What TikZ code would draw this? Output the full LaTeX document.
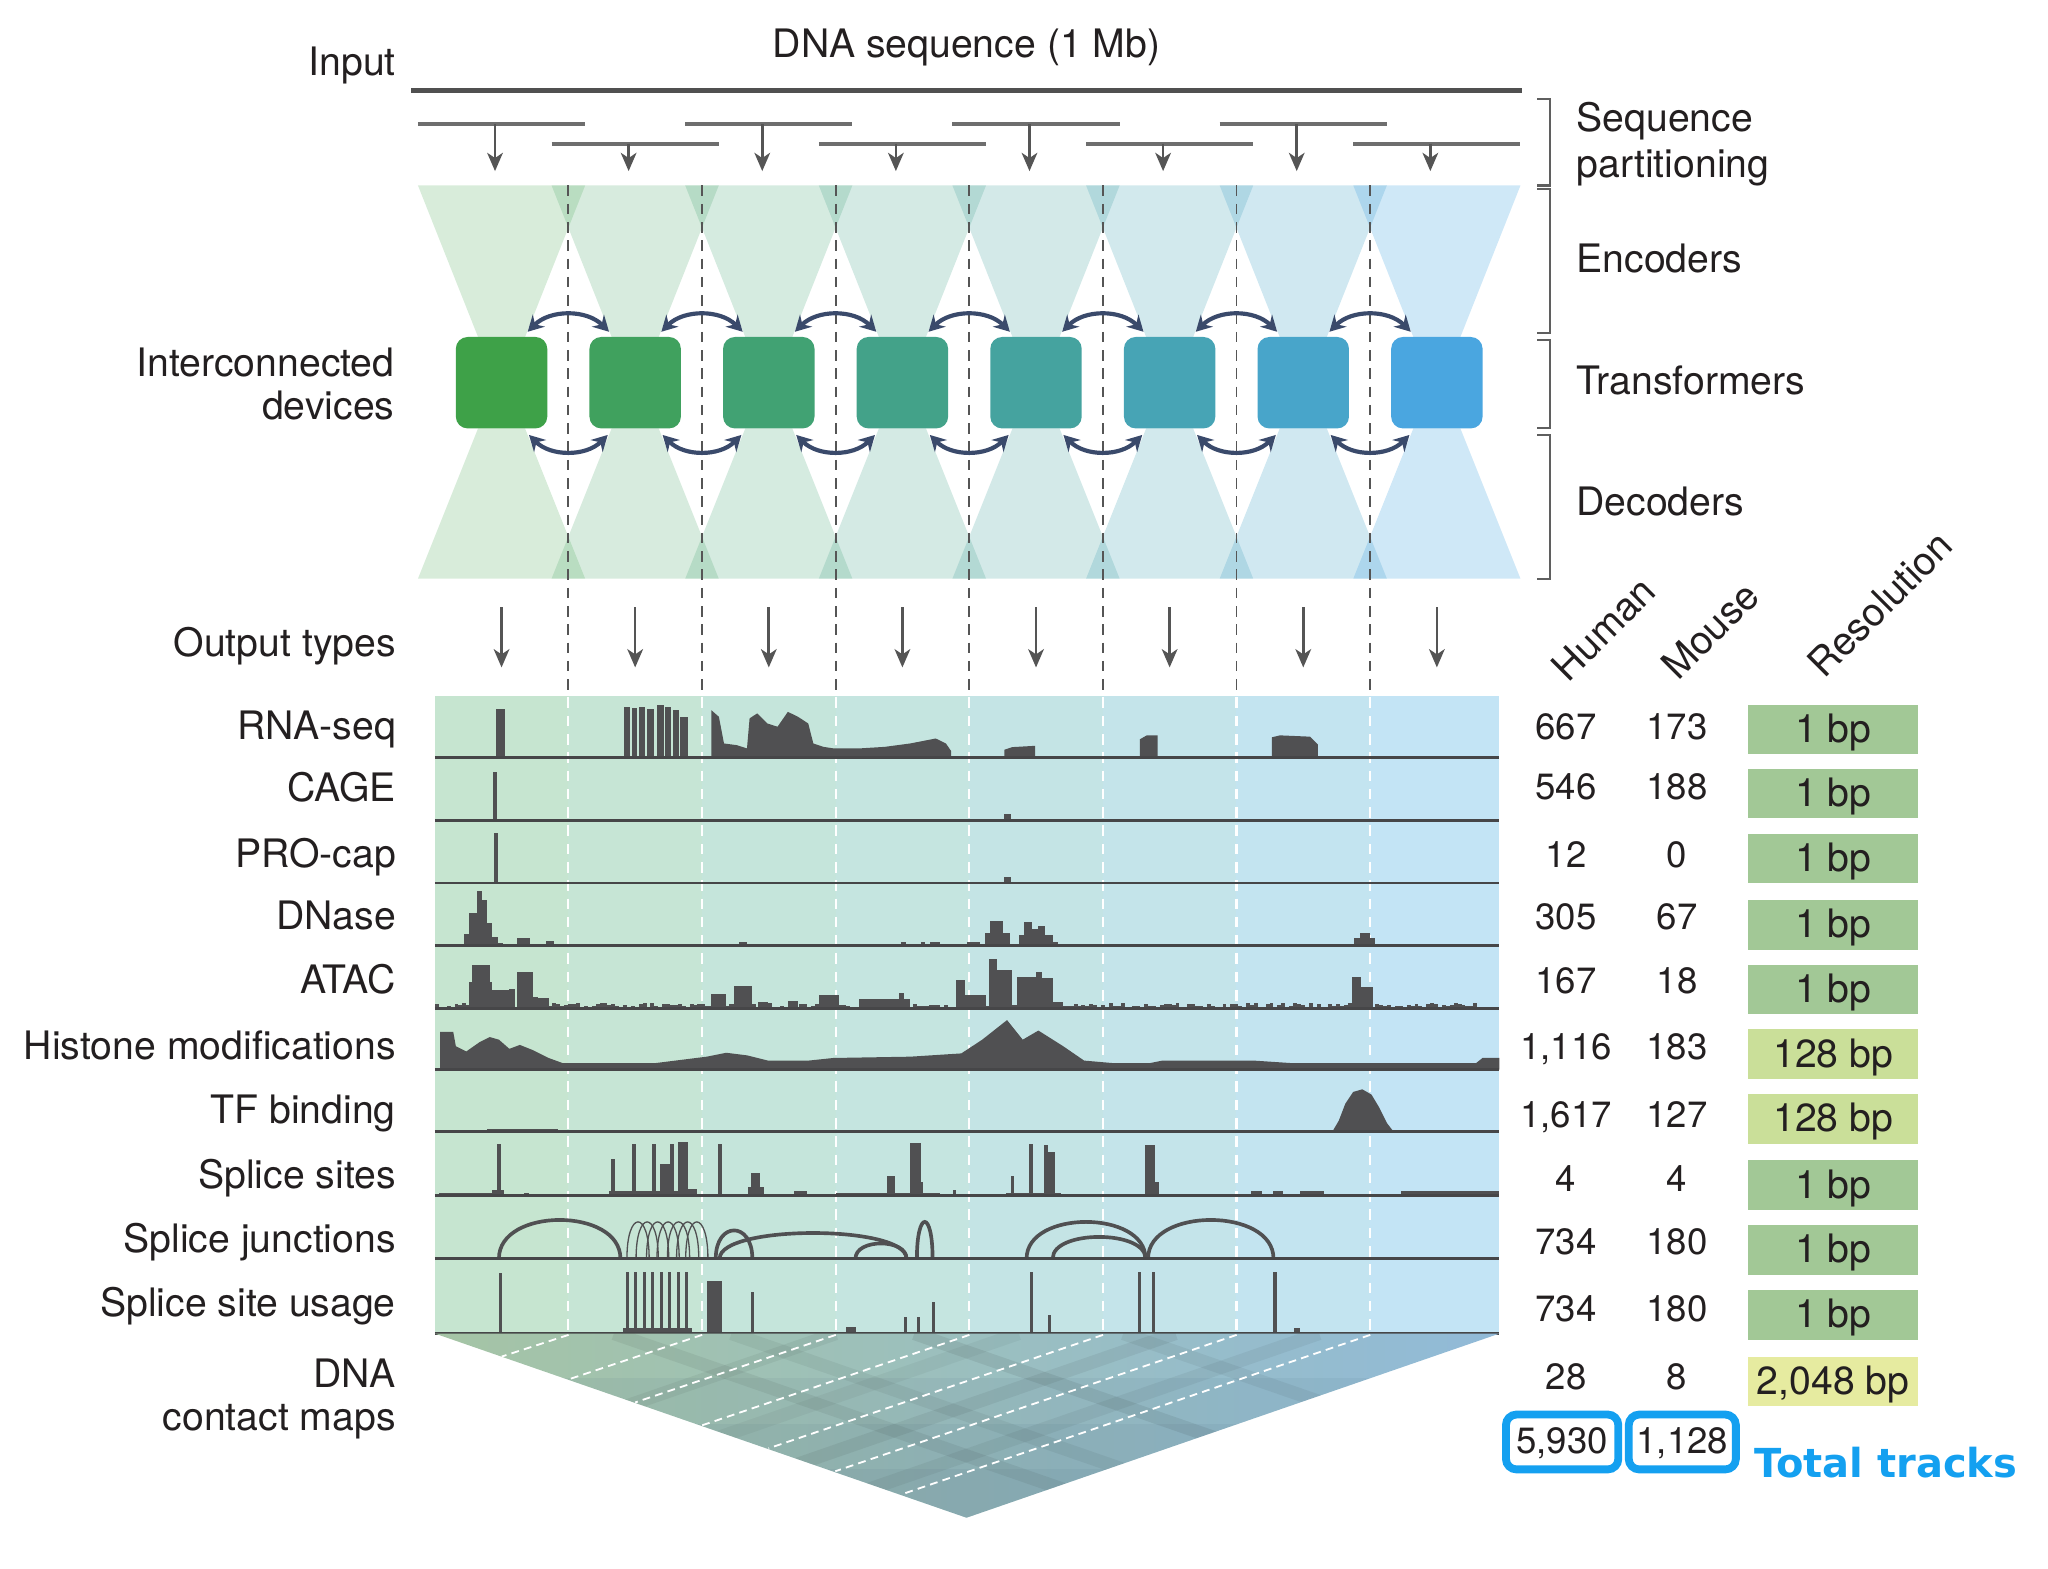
\documentclass[tikz,border=0pt]{standalone}
\usepackage{fontspec}
\setmainfont{TeX Gyre Heros}
\newfontfamily\dejavu{DejaVu Sans}
\usetikzlibrary{arrows.meta,calc}
\definecolor{txt}{RGB}{35,31,32}
\definecolor{trkcol}{RGB}{80,80,82}
\definecolor{sepcol}{RGB}{70,70,72}
\definecolor{arccol}{RGB}{58,74,107}
\definecolor{gline}{RGB}{85,85,85}
\definecolor{inputcol}{RGB}{80,80,80}
\definecolor{segcol}{RGB}{110,110,110}
\definecolor{brkcol}{RGB}{95,95,95}
\definecolor{tb}{RGB}{20,160,240}
\definecolor{bpA}{RGB}{162,200,150}
\definecolor{bpB}{RGB}{202,223,153}
\definecolor{bpC}{RGB}{230,235,160}
\definecolor{pcL}{RGB}{198,229,208}
\definecolor{pcR}{RGB}{195,228,245}
\definecolor{cmLc}{RGB}{165,196,165}
\definecolor{cmRc}{RGB}{145,186,216}
\definecolor{cmDk}{RGB}{60,90,120}
\definecolor{devc0}{RGB}{62,161,72}
\definecolor{devc1}{RGB}{64,161,94}
\definecolor{devc2}{RGB}{65,162,115}
\definecolor{devc3}{RGB}{67,162,137}
\definecolor{devc4}{RGB}{69,163,159}
\definecolor{devc5}{RGB}{71,164,181}
\definecolor{devc6}{RGB}{72,165,202}
\definecolor{devc7}{RGB}{74,166,224}
\newcommand\tkbar[3]{\fill[trkcol] (#1,\rb) rectangle (#2,#3);}
\newcommand\sjarc[3]{\draw[sjline] (#1,963.5) .. controls (#1,{963.5-1.333*#3}) and (#2,{963.5-1.333*#3}) .. (#2,963.5);}
\begin{document}
\begin{tikzpicture}[x=0.5pt,y=-0.5pt,
  every node/.style={inner sep=0pt, outer sep=0pt, text=txt},
  lbl/.style={font=\fontsize{15}{18}\selectfont},
  numtxt/.style={font=\fontsize{14}{16}\selectfont, anchor=base},
  devbox/.style={minimum width=35pt, minimum height=35pt, rounded corners=4.5pt, draw=none},
  garrow/.style={draw=gline, line width=1pt, -{Stealth[length=7pt,width=6pt,inset=2pt]}},
  segline/.style={draw=segcol, line width=1.5pt},
  biarc/.style={draw=arccol, line width=1.6pt, {Stealth[length=6pt,width=6.5pt,inset=2pt]}-{Stealth[length=6pt,width=6.5pt,inset=2pt]}},
  ddash/.style={draw=gline, line width=0.7pt, dash pattern=on 4pt off 3pt},
  wdash/.style={draw=white, line width=0.8pt, dash pattern=on 4pt off 3pt},
  brk/.style={draw=brkcol, line width=0.8pt},
  sepline/.style={draw=sepcol, line width=1.1pt},
  sjline/.style={draw=trkcol, line width=1.4pt},
  sjthin/.style={draw=trkcol, line width=0.5pt},
  resbox/.style={minimum width=65pt, minimum height=19pt, text height=12pt, text depth=2pt, font=\fontsize{15}{18}\selectfont},
  totbox/.style={draw=tb, line width=3pt, rounded corners=4pt, minimum height=21pt, text height=10pt, text depth=1pt, font=\fontsize{14}{16}\selectfont},
]
\useasboundingbox (0,0) rectangle (1568,1201);

% ---------- top: input ----------
\node[lbl, anchor=base] (seqlbl) at (740,44) {DNA sequence (1 Mb)};
\node[lbl, anchor=base east] (inlbl) at (303,58) {Input};
\coordinate (inA) at (315,69);
\coordinate (inB) at (1165,69);
\draw[line width=2pt, draw=inputcol] (inA) -- (inB);

% ---------- encoder / decoder fans ----------
\foreach \i in {0,...,7}{
  \pgfmathsetmacro\c{384+102.3*\i}
  \pgfmathsetmacro\op{0.2+0.009*\i}
  \fill[fill=devc\i, fill opacity=\op] ({\c-64},142) -- ({\c+64},142) -- ({\c+18},258) -- ({\c-18},258) -- cycle;
  \fill[fill=devc\i, fill opacity=\op] ({\c-18},328) -- ({\c+18},328) -- ({\c+64},443) -- ({\c-64},443) -- cycle;
}

% ---------- partition segments and arrows ----------
\foreach \i in {0,...,7}{
  \pgfmathsetmacro\c{384+102.3*\i}
  \pgfmathsetmacro\sy{(mod(\i,2)==0) ? 95 : 110}
  \draw[segline] ({\c-64},\sy) -- ({\c+64},\sy);
  \coordinate (seg\i) at ({\c-5},\sy);
  \coordinate (enc\i) at ({\c-5},131);
  \draw[garrow] (seg\i) -- (enc\i);
}

% ---------- dark dashed dividers ----------
\foreach \i in {0,...,6}{
  \pgfmathsetmacro\d{435.15+102.3*\i}
  \draw[ddash] (\d,142) -- (\d,533);
}

% ---------- devices ----------
\foreach \i in {0,...,7}{
  \pgfmathsetmacro\c{384+102.3*\i}
  \node[devbox, fill=devc\i] (dev\i) at (\c,293) {};
}
\foreach \i in {0,...,6}{
  \pgfmathtruncatemacro\j{\i+1}
  \draw[biarc] ($(dev\i.north east)+(-15,-4)$) to[bend left=45] ($(dev\j.north west)+(15,-4)$);
  \draw[biarc] ($(dev\i.south east)+(-14,5)$) to[bend right=45] ($(dev\j.south west)+(14,5)$);
}

% ---------- output arrows ----------
\foreach \i in {0,...,7}{
  \pgfmathsetmacro\c{384+102.3*\i}
  \coordinate (oa\i) at (\c,465);
  \coordinate (ob\i) at (\c,511);
  \draw[garrow] (oa\i) -- (ob\i);
}

% ---------- labels left ----------
\node[lbl, anchor=base east] (ic1) at (302,288) {Interconnected};
\node[lbl, anchor=base east] (ic2) at (302,321) {devices};
\node[lbl, anchor=base east] (otl) at (303,503) {Output types};

% ---------- brackets right ----------
\draw[brk] (1177,76) -- (1187,76) -- (1187,142) -- (1177,142);
\draw[brk] (1177,145) -- (1187,145) -- (1187,255) -- (1177,255);
\draw[brk] (1177,260) -- (1187,260) -- (1187,328) -- (1177,328);
\draw[brk] (1177,333) -- (1187,333) -- (1187,443) -- (1177,443);
\node[lbl, anchor=base west] (rs1) at (1207,101) {Sequence};
\node[lbl, anchor=base west] (rs2) at (1207,136) {partitioning};
\node[lbl, anchor=base west] (renc) at (1207,209) {Encoders};
\node[lbl, anchor=base west] (rtr) at (1207,302) {Transformers};
\node[lbl, anchor=base west] (rdec) at (1207,395) {Decoders};

% ---------- track panel ----------
\foreach \i in {0,...,7}{
  \pgfmathsetmacro\l{(\i==0) ? 333 : 384+102.3*\i-51.15}
  \pgfmathsetmacro\r{(\i==7) ? 1148 : 384+102.3*\i+51.15}
  \pgfmathsetmacro\pp{100-100*\i/7}
  \fill[fill=pcL!\pp!pcR] (\l,533) rectangle (\r,1021);
}
\foreach \i in {0,...,6}{
  \pgfmathsetmacro\d{435.15+102.3*\i}
  \draw[wdash] (\d,534) -- (\d,1021);
}

% RNA-seq
\def\rb{580}
\tkbar{379.7}{386.4}{543}
\tkbar{478}{482}{541}\tkbar{483.5}{487.5}{542}\tkbar{489.5}{494}{541.6}\tkbar{495.5}{500.5}{542.5}
\tkbar{503}{508}{540}\tkbar{509}{513.5}{541}\tkbar{515}{520}{543.7}\tkbar{521}{527}{548.8}
\fill[trkcol] (544.6,580) -- (544.6,543.7) -- (550.4,548.8) -- (554.3,569.2) -- (564.1,570.5) -- (571.9,573) -- (573.9,550) -- (579.7,546.2) -- (587.5,553.9) -- (595.3,556.4) -- (603.2,545) -- (611,548.8) -- (618.8,553.9) -- (622.7,569.2) -- (630.5,571.8) -- (638.3,573) -- (657.8,573) -- (677.4,571.8) -- (696.9,569.2) -- (716.4,565.4) -- (724.2,569.2) -- (728.2,575) -- (728.2,580) -- cycle;
\fill[trkcol] (769,580) -- (769,574) -- (775,572) -- (792.6,571) -- (792.6,580) -- cycle;
\fill[trkcol] (872.7,580) -- (872.7,566) -- (878,563) -- (886.3,563) -- (886.3,580) -- cycle;
\fill[trkcol] (973.7,580) -- (973.7,564.5) -- (980,563) -- (1003,564) -- (1008.9,570) -- (1008.9,580) -- cycle;

% CAGE
\def\rb{628}
\tkbar{377.5}{380.5}{591}
\tkbar{769}{774}{623.5}
% PRO-cap
\def\rb{676}
\tkbar{378.5}{381.5}{638}
\tkbar{769}{774}{671.3}

% DNase
\def\rb{724}
\tkbar{355}{359}{715}\tkbar{359}{365}{699}\tkbar{365}{369}{682}\tkbar{369}{373}{689}\tkbar{373}{377}{707}\tkbar{377}{381}{717}\tkbar{381}{385}{722}
\tkbar{350}{424}{722.8}
\tkbar{396}{406}{718.5}\tkbar{418}{424}{720.5}
\tkbar{541}{607}{722.5}\tkbar{566}{572}{721}
\tkbar{664}{822}{722.5}
\tkbar{690}{694}{721}\tkbar{705}{708}{721}\tkbar{712}{720}{721}\tkbar{740}{750}{721.5}
\tkbar{754}{758}{714}\tkbar{758}{768}{705}\tkbar{768}{773}{714}
\tkbar{780}{784}{716}\tkbar{784}{790}{706}\tkbar{790}{795}{711}\tkbar{795}{800}{709}\tkbar{800}{806}{716}\tkbar{806}{810}{721}
\tkbar{1030}{1062}{722.5}\tkbar{1037}{1041}{718}\tkbar{1041}{1049}{714.6}\tkbar{1049}{1053}{718}

% ATAC
\def\rb{772}
\pgfmathsetseed{7}
\foreach \x in {333,336,...,1130}{
  \pgfmathsetmacro\h{0.5+3.5*rnd}
  \fill[trkcol] (\x,772) rectangle ({\x+3},{772-\h});
}
\tkbar{359}{361}{752}\tkbar{361}{375}{739}\tkbar{375}{377}{752}\tkbar{377}{390}{758}\tkbar{390}{394}{757}
\tkbar{396}{408}{744}\tkbar{408}{412}{763}\tkbar{412}{420}{764}
\tkbar{544}{556}{761}\tkbar{562}{576}{755}\tkbar{580}{588}{767}\tkbar{603}{611}{766}\tkbar{627}{642}{762}
\tkbar{658}{697}{765}\tkbar{688}{692}{760}
\tkbar{732}{739}{750}\tkbar{739}{755}{762}\tkbar{757}{763}{734}\tkbar{763}{775}{743}
\tkbar{779}{793}{748}\tkbar{793}{798}{744}\tkbar{798}{806}{749}\tkbar{806}{814}{767}
\tkbar{1035}{1042}{748}\tkbar{1042}{1051}{755.5}

% Histone modifications
\fill[trkcol] (337,819) -- (337,790) -- (347,790) -- (349,801) -- (357,805) -- (367,798) -- (375,794) -- (382,796) -- (390,803) -- (398,800) -- (408,804) -- (420,810) -- (431,814) -- (501,814) -- (541,809) -- (556,806) -- (572,808) -- (588,812) -- (619,812) -- (638,810) -- (697,809) -- (736,806.5) -- (752,796) -- (771,781) -- (783,796) -- (795,789) -- (814,801) -- (830,812) -- (853,814) -- (880,814) -- (890,812) -- (960,812) -- (990,814) -- (1130,814) -- (1135,810) -- (1148,810) -- (1148,819) -- cycle;

% TF binding
\def\rb{866.5}
\tkbar{373}{427}{864}\tkbar{427}{506}{865.3}\tkbar{660}{840}{865}
\fill[trkcol] (1020,866.5) -- (1025,858) -- (1030,845) -- (1036,836) -- (1043,834) -- (1050,838) -- (1056,848) -- (1062,860) -- (1067,866.5) -- cycle;

% Splice sites
\def\rb{915}
\tkbar{336}{377}{913.5}\tkbar{377}{386}{911}\tkbar{380.5}{383.5}{876}\tkbar{401}{405}{913}
\tkbar{468}{471}{887}\tkbar{484}{487}{876}\tkbar{499}{502}{876}\tkbar{505}{513}{891}\tkbar{513}{516}{876}
\tkbar{519}{527}{874}\tkbar{527}{534}{910}\tkbar{466}{534}{912}\tkbar{550}{553}{876}\tkbar{573}{585}{909}\tkbar{575}{582}{898}
\tkbar{608}{618}{912}\tkbar{640}{720}{913}
\tkbar{679}{685}{900}\tkbar{697}{705}{875}\tkbar{705}{707}{905}\tkbar{730}{732}{911}
\tkbar{774}{776}{900}\tkbar{788}{791}{876}\tkbar{799}{802}{877}\tkbar{802}{808}{882}\tkbar{770}{812}{913}
\tkbar{877}{884}{877}\tkbar{884}{887}{905}
\tkbar{958}{966}{912}\tkbar{975}{982}{912}\tkbar{995}{1014}{912}
\tkbar{1073}{1148}{911.5}

% Splice junctions
\sjarc{382}{475}{29.5}
\foreach \a in {480,487,495,503,511,518,525}{
  \draw[sjthin] (\a,963.5) .. controls (\a,{963.5-1.333*28}) and ({\a+17},{963.5-1.333*28}) .. ({\a+17},963.5);
}
\sjarc{548}{576}{21.5}
\sjarc{551}{694}{19.5}
\sjarc{655}{694}{11.5}
\sjarc{702}{714}{28}
\sjarc{786}{877}{28}
\sjarc{806}{877}{16.5}
\sjarc{879}{975}{29.5}

% Splice site usage
\def\rb{1021}
\tkbar{382}{384.5}{975}
\tkbar{477}{530}{1017}
\foreach \a in {479,485.5,492,498.5,505,511.5,518,524.5}{\tkbar{\a}{\a+2.5}{974}}
\tkbar{541}{553}{981}
\tkbar{575}{577.5}{989}
\tkbar{648}{655}{1016}
\tkbar{692}{694.5}{1008}\tkbar{702}{704.5}{1008}\tkbar{713.5}{716}{997}
\tkbar{788.5}{791}{974}\tkbar{802}{804.5}{1007}
\tkbar{871}{873.5}{974}\tkbar{882}{884.5}{974}
\tkbar{975}{977.5}{974}\tkbar{991}{995}{1017}

% row separators
\foreach \y in {580,628,676,724,772,819,866.5,915,963.5,1021}{
  \draw[sepline] (333,\y) -- (1148,\y);
}

% ---------- contact map ----------
\coordinate (cmL) at (333,1021);
\coordinate (cmR) at (1148,1021);
\coordinate (cmB) at (740,1162);
\shade[left color=cmLc, right color=cmRc] (cmL) -- (cmR) -- (cmB) -- cycle;
\begin{scope}
  \clip (cmL) -- (cmR) -- (cmB) -- cycle;
  \fill[cmDk, opacity=0.07] (0,1055) rectangle (1568,1200);
  \fill[cmDk, opacity=0.07] (0,1090) rectangle (1568,1200);
  \fill[cmDk, opacity=0.07] (0,1125) rectangle (1568,1200);
  \foreach \s/\o in {470/0.06,560/0.05,700/0.07,860/0.05}{
    \draw[line width=5pt, draw=black, opacity=\o] (\s,1021) -- ++(407,141);
  }
  \foreach \s/\o in {640/0.05,900/0.06,1010/0.05,780/0.04}{
    \draw[line width=5pt, draw=black, opacity=\o] (\s,1021) -- ++(-408,141);
  }
\end{scope}
\foreach \xd/\xe/\ye in {435.3/384.1/1038.6,537.6/435.2/1056.1,639.9/486.3/1073.7,742.2/537.4/1091.3,844.5/588.4/1108.9,946.8/639.5/1126.4,1049.1/690.6/1144.0}{
  \draw[wdash, line width=0.7pt, dash pattern=on 3pt off 2pt] (\xd,1022) -- (\xe,\ye);
}

% ---------- track labels ----------
\node[lbl, anchor=base east] (t0) at (303,566) {RNA-seq};
\node[lbl, anchor=base east] (t1) at (303,614) {CAGE};
\node[lbl, anchor=base east] (t2) at (303,664) {PRO-cap};
\node[lbl, anchor=base east] (t3) at (303,712) {DNase};
\node[lbl, anchor=base east] (t4) at (303,761) {ATAC};
\node[lbl, anchor=base east] (t5) at (303,811) {Histone modifications};
\node[lbl, anchor=base east] (t6) at (303,860) {TF binding};
\node[lbl, anchor=base east] (t7) at (303,910) {Splice sites};
\node[lbl, anchor=base east] (t8) at (303,959) {Splice junctions};
\node[lbl, anchor=base east] (t9) at (303,1008) {Splice site usage};
\node[lbl, anchor=base east] (t10a) at (303,1062) {DNA};
\node[lbl, anchor=base east] (t10b) at (303,1095) {contact maps};

% ---------- headers ----------
\node[lbl, anchor=base west, rotate=45] (hH) at (1201,523) {Human};
\node[lbl, anchor=base west, rotate=45] (hM) at (1285,522) {Mouse};
\node[lbl, anchor=base west, rotate=45] (hR) at (1397,520) {Resolution};

% ---------- numbers and resolution ----------
\foreach \k/\yb/\yc/\hv/\mv/\rv/\rc in {
  0/566/558.5/667/173/1 bp/bpA,
  1/612/607.4/546/188/1 bp/bpA,
  2/664/657.2/12/0/1 bp/bpA,
  3/711.5/708/305/67/1 bp/bpA,
  4/761/757.7/167/18/1 bp/bpA,
  5/811/807/{1,116}/183/128 bp/bpB,
  6/863/856.5/{1,617}/127/128 bp/bpB,
  7/912.6/907.3/4/4/1 bp/bpA,
  8/960.6/956.9/734/180/1 bp/bpA,
  9/1012/1006.7/734/180/1 bp/bpA,
  10/1064/1057.7/28/8/{2,048 bp}/bpC}{
  \node[numtxt] (nh\k) at (1199,\yb) {\hv};
  \node[numtxt] (nm\k) at (1284,\yb) {\mv};
  \node[resbox, fill=\rc] (res\k) at (1403.5,\yc) {\rv};
}

% ---------- totals ----------
\node[totbox, minimum width=43pt] (totH) at (1196,1104) {5,930};
\node[totbox, minimum width=41pt] (totM) at (1288,1104) {1,128};
\node[anchor=base west, text=tb, font=\dejavu\bfseries\fontsize{15.3}{18}\selectfont] (totlbl) at (1343,1131) {Total tracks};
\end{tikzpicture}
\end{document}
